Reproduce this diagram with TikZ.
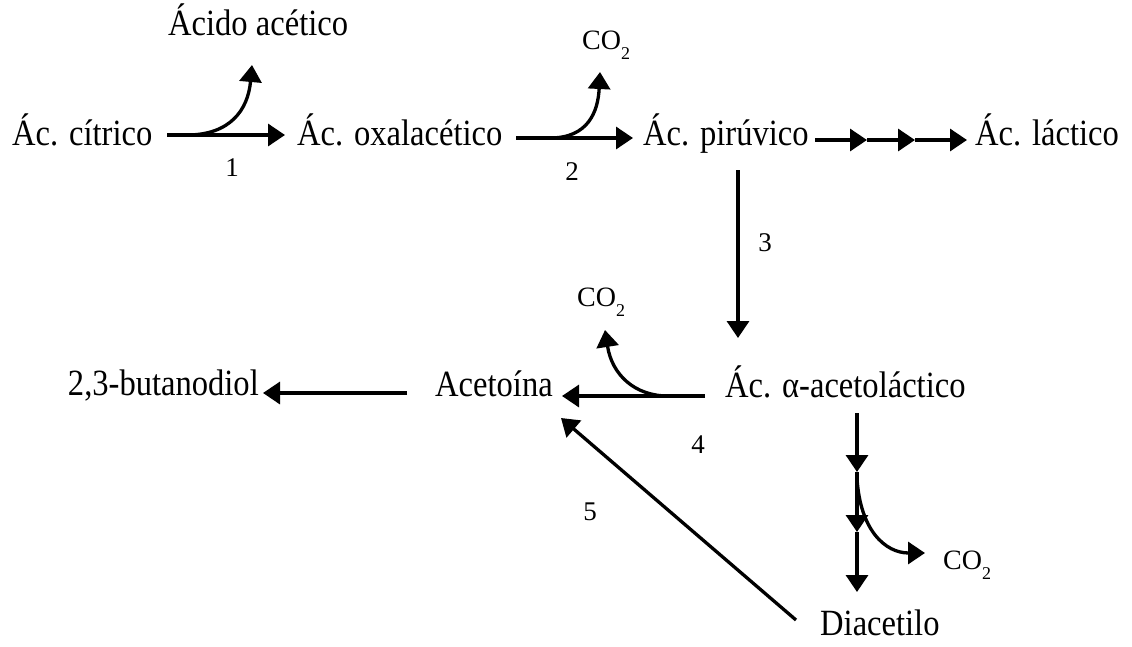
\documentclass[tikz,border=0pt]{standalone}
\usepackage{fontspec}
\setmainfont{Liberation Serif}[FakeStretch=0.88]
\newfontfamily\plainrm{Liberation Serif}
\usetikzlibrary{arrows.meta}
\tikzset{
  big/.style={inner sep=0pt, anchor=base west, font=\fontsize{37}{44}\selectfont},
  small/.style={inner sep=0pt, font=\plainrm\fontsize{27}{32}\selectfont},
  gas/.style={inner sep=0pt, anchor=base west, font=\plainrm\fontsize{28}{33}\selectfont},
  arr/.style={line width=3.3pt, -{Triangle[length=17pt,width=22pt]}},
}
\newcommand{\cotwo}{CO\raisebox{-10pt}{\fontsize{18}{18}\selectfont 2}}
\begin{document}
\begin{tikzpicture}[x=1pt,y=-1pt]
\useasboundingbox (0,0) rectangle (1132,646);
% text nodes
\node[big] (acido) at (168,35) {Ácido acético};
\node[big] (citrico) at (12,145) {Ác. cítrico};
\node[big] (oxal) at (297,145) {Ác. oxalacético};
\node[big] (piruv) at (643,145) {Ác. pirúvico};
\node[big] (lact) at (975,145) {Ác. láctico};
\node[big] (acetolac) at (725,397) {Ác. α-acetoláctico};
\node[big] (acetoina) at (435,396) {Acetoína};
\node[big, anchor=base east] (butan) at (259,395) {2,3-butanodiol};
\node[big] (diacetilo) at (820,635) {Diacetilo};
\node[gas] (coA) at (582,49) {\cotwo};
\node[gas] (coB) at (577,306) {\cotwo};
\node[gas] (coC) at (943,569) {\cotwo};
\node[small] (n1) at (232,168) {1};
\node[small] (n2) at (572,172) {2};
\node[small] (n3) at (765,243) {3};
\node[small] (n4) at (698,445) {4};
\node[small] (n5) at (590,512) {5};
% connector end points
\coordinate (a1s) at (167,135); \coordinate (a1e) at (285,135);
\coordinate (b1s) at (187,135); \coordinate (b1e) at (252,65);
\coordinate (a2s) at (516,138); \coordinate (a2e) at (633,138);
\coordinate (b2s) at (550,138); \coordinate (b2e) at (600,72);
\coordinate (l0) at (815,140); \coordinate (l1) at (867,140);
\coordinate (l2) at (915,140); \coordinate (l3) at (967,140);
\coordinate (a3s) at (738,170); \coordinate (a3e) at (738,338);
\coordinate (a4s) at (705,396); \coordinate (a4e) at (562,396);
\coordinate (b4s) at (668,396); \coordinate (b4e) at (605,330);
\coordinate (bus) at (407,393); \coordinate (bue) at (263,393);
\coordinate (a5s) at (796,620); \coordinate (a5e) at (561,418);
\coordinate (v0) at (857,413); \coordinate (v1) at (857,472);
\coordinate (v2) at (857,532); \coordinate (v3) at (857,592);
\coordinate (c6s) at (857,478); \coordinate (c6e) at (925,553);
% connectors
\draw[arr] (a1s) -- (a1e);
\draw[arr] (b1s) .. controls (230,135) and (248,110) .. (b1e);
\draw[arr] (a2s) -- (a2e);
\draw[arr] (b2s) .. controls (588,138) and (598,112) .. (b2e);
\draw[arr] (l0) -- (l1);
\draw[arr] (l1) -- (l2);
\draw[arr] (l2) -- (l3);
\draw[arr] (a3s) -- (a3e);
\draw[arr] (a4s) -- (a4e);
\draw[arr] (b4s) .. controls (635,396) and (612,375) .. (b4e);
\draw[arr] (bus) -- (bue);
\draw[arr] (a5s) -- (a5e);
\draw[arr] (v0) -- (v1);
\draw[arr] (v1) -- (v2);
\draw[arr] (v2) -- (v3);
\draw[arr] (c6s) .. controls (860,530) and (885,553) .. (c6e);
\end{tikzpicture}
\end{document}
